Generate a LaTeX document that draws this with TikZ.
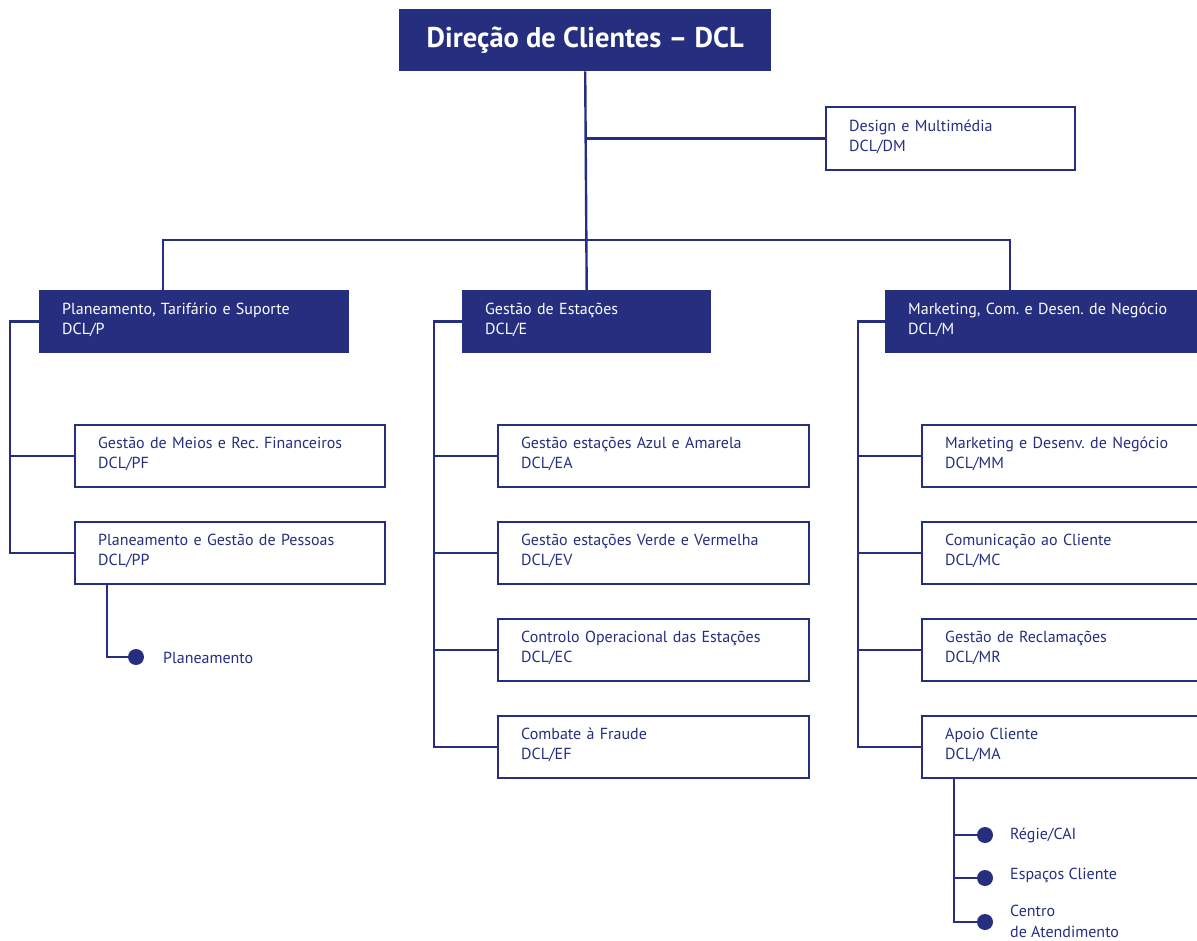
\documentclass[tikz,border=0pt]{standalone}
\usepackage{fontspec}
\setmainfont{PT Sans}
\frenchspacing
\definecolor{navy}{RGB}{38,46,128}
% two-line unit label, a little extra depth lifts the lines inside the box
\newcommand\unitlabel[2]{#1\\#2\rule[-6pt]{0pt}{0pt}}
\tikzset{
  conn/.style={draw=navy, line width=2.4pt},
  headbox/.style={draw=navy, fill=navy, line width=2.4pt, text=white, anchor=north west,
    font=\fontsize{16}{20}\selectfont, align=left, inner xsep=22pt, inner ysep=0pt},
  subbox/.style={draw=navy, fill=white, line width=2.4pt, text=navy, anchor=north west,
    font=\fontsize{16}{20}\selectfont, align=left, inner xsep=23pt, inner ysep=0pt},
  dotnode/.style={circle, fill=navy, inner sep=0pt, minimum size=16pt},
  dotlabel/.style={text=navy, anchor=west, font=\fontsize{16}{21}\selectfont, align=left, inner sep=0pt},
}
\begin{document}
\begin{tikzpicture}[x=1pt, y=-1pt]
\useasboundingbox (0,0) rectangle (1197,941);
\clip (0,0) rectangle (1197,941);

% top level
\node[draw=navy, fill=navy, line width=2.4pt, text=white, anchor=north west,
  minimum width=370pt, minimum height=60pt, inner sep=0pt,
  font=\fontsize{28.5}{32}\selectfont\bfseries] (dcl) at (399,9) {Direção de Clientes – DCL};

\node[subbox, text width=203pt, minimum height=63pt] (dm) at (825,106) {\unitlabel{Design e Multimédia}{DCL/DM}};

% departments
\node[headbox, text width=264pt, minimum height=61pt] (p) at (39,290) {\unitlabel{Planeamento, Tarifário e Suporte}{DCL/P}};
\node[headbox, text width=203pt, minimum height=61pt] (e) at (462,290) {\unitlabel{Gestão de Estações}{DCL/E}};
\node[headbox, text width=266pt, minimum height=61pt] (m) at (885,290) {\unitlabel{Marketing, Com. e Desen. de Negócio}{DCL/M}};

% units of DCL/P
\node[subbox, text width=264pt, minimum height=62pt] (pf) at (74,424) {\unitlabel{Gestão de Meios e Rec. Financeiros}{DCL/PF}};
\node[subbox, text width=264pt, minimum height=62pt] (pp) at (74,521) {\unitlabel{Planeamento e Gestão de Pessoas}{DCL/PP}};

% units of DCL/E
\node[subbox, text width=265pt, minimum height=62pt] (ea) at (497,424) {\unitlabel{Gestão estações Azul e Amarela}{DCL/EA}};
\node[subbox, text width=265pt, minimum height=62pt] (ev) at (497,521) {\unitlabel{Gestão estações Verde e Vermelha}{DCL/EV}};
\node[subbox, text width=265pt, minimum height=62pt] (ec) at (497,618) {\unitlabel{Controlo Operacional das Estações}{DCL/EC}};
\node[subbox, text width=265pt, minimum height=62pt] (ef) at (497,715) {\unitlabel{Combate à Fraude}{DCL/EF}};

% units of DCL/M
\node[subbox, text width=265pt, minimum height=62pt] (mm) at (921,424) {\unitlabel{Marketing e Desenv. de Negócio}{DCL/MM}};
\node[subbox, text width=265pt, minimum height=62pt] (mc) at (921,521) {\unitlabel{Comunicação ao Cliente}{DCL/MC}};
\node[subbox, text width=265pt, minimum height=62pt] (mr) at (921,618) {\unitlabel{Gestão de Reclamações}{DCL/MR}};
\node[subbox, text width=265pt, minimum height=62pt] (ma) at (921,715) {\unitlabel{Apoio Cliente}{DCL/MA}};

% bullet items
\node[dotnode] (d1) at (136,657) {};
\node[dotlabel] (l1) at (163,658) {Planeamento};
\node[dotnode] (d2) at (985,835) {};
\node[dotlabel] (l2) at (1010,835) {Régie/CAI};
\node[dotnode] (d3) at (985,878) {};
\node[dotlabel] (l3) at (1010,875) {Espaços Cliente};
\node[dotnode] (d4) at (985,922) {};
\node[dotlabel] (l4) at (1010,921) {Centro\\de Atendimento};

% spine positions
\coordinate (bus) at (0,240);
\coordinate (psp) at (10,0);
\coordinate (esp) at (434,0);
\coordinate (msp) at (858,0);
\coordinate (ppx) at (107,0);
\coordinate (max) at (954,0);

% connectors
\draw[conn] (dcl.south) -- (e.north);
\draw[conn] (dcl.south |- dm.west) -- (dm.west);
\draw[conn] ([xshift=-31pt]p.north) |- (bus -| dcl.south) -| ([xshift=-31pt]m.north);

\draw[conn] (p.west) -| (psp |- pp.west) -- (pp.west);
\draw[conn] (pf.west) -- (pf.west -| psp);

\draw[conn] (e.west) -| (esp |- ef.west) -- (ef.west);
\draw[conn] (ea.west) -- (ea.west -| esp);
\draw[conn] (ev.west) -- (ev.west -| esp);
\draw[conn] (ec.west) -- (ec.west -| esp);

\draw[conn] (m.west) -| (msp |- ma.west) -- (ma.west);
\draw[conn] (mm.west) -- (mm.west -| msp);
\draw[conn] (mc.west) -- (mc.west -| msp);
\draw[conn] (mr.west) -- (mr.west -| msp);

\draw[conn] (ppx |- pp.south) |- (d1);
\draw[conn] (max |- ma.south) |- (d4);
\draw[conn] (max |- d2) -- (d2);
\draw[conn] (max |- d3) -- (d3);
\end{tikzpicture}
\end{document}
